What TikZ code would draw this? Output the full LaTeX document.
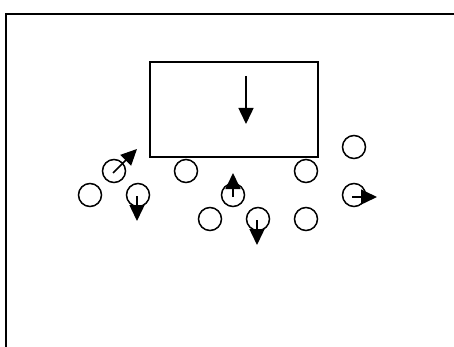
\documentclass[tikz,border=0pt]{standalone}
\usetikzlibrary{arrows.meta}
\begin{document}
\begin{tikzpicture}[x=1pt,y=-1pt,
  ball/.style={circle,draw,line width=1.5pt,minimum size=23pt,inner sep=0pt},
  mov/.style={line width=1.5pt,-{Triangle[length=16pt,width=15pt]}},
  frame/.style={line width=2.2pt}]
\useasboundingbox (0,0) rectangle (454,347);
\draw[frame] (6,347) -- (6,14) -- (454,14);
\node[draw,line width=1.5pt,minimum width=168pt,minimum height=95pt,inner sep=0pt] (box) at (234,109.5) {};
\coordinate (bs) at (246,76);
\coordinate (be) at (246,124);
\draw[mov] (bs) -- (be);
\node[ball] (c1) at (114,171) {};
\node[ball] (c2) at (90,195) {};
\node[ball] (c3) at (138,195) {};
\node[ball] (c4) at (186,171) {};
\node[ball] (c5) at (233,195) {};
\node[ball] (c6) at (210,219) {};
\node[ball] (c7) at (258,219) {};
\node[ball] (c8) at (306,171) {};
\node[ball] (c9) at (306,219) {};
\node[ball] (c10) at (354,147) {};
\node[ball] (c11) at (354,195) {};
\coordinate (t1) at (137,149);
\coordinate (t3) at (137,221);
\coordinate (t5) at (233,173);
\coordinate (t7) at (257,245);
\coordinate (t11) at (377,197);
\draw[mov] (113,173) -- (t1);
\draw[mov] (137,196) -- (t3);
\draw[mov] (233,197) -- (t5);
\draw[mov] (257,220) -- (t7);
\draw[mov] (352,197) -- (t11);
\end{tikzpicture}
\end{document}
